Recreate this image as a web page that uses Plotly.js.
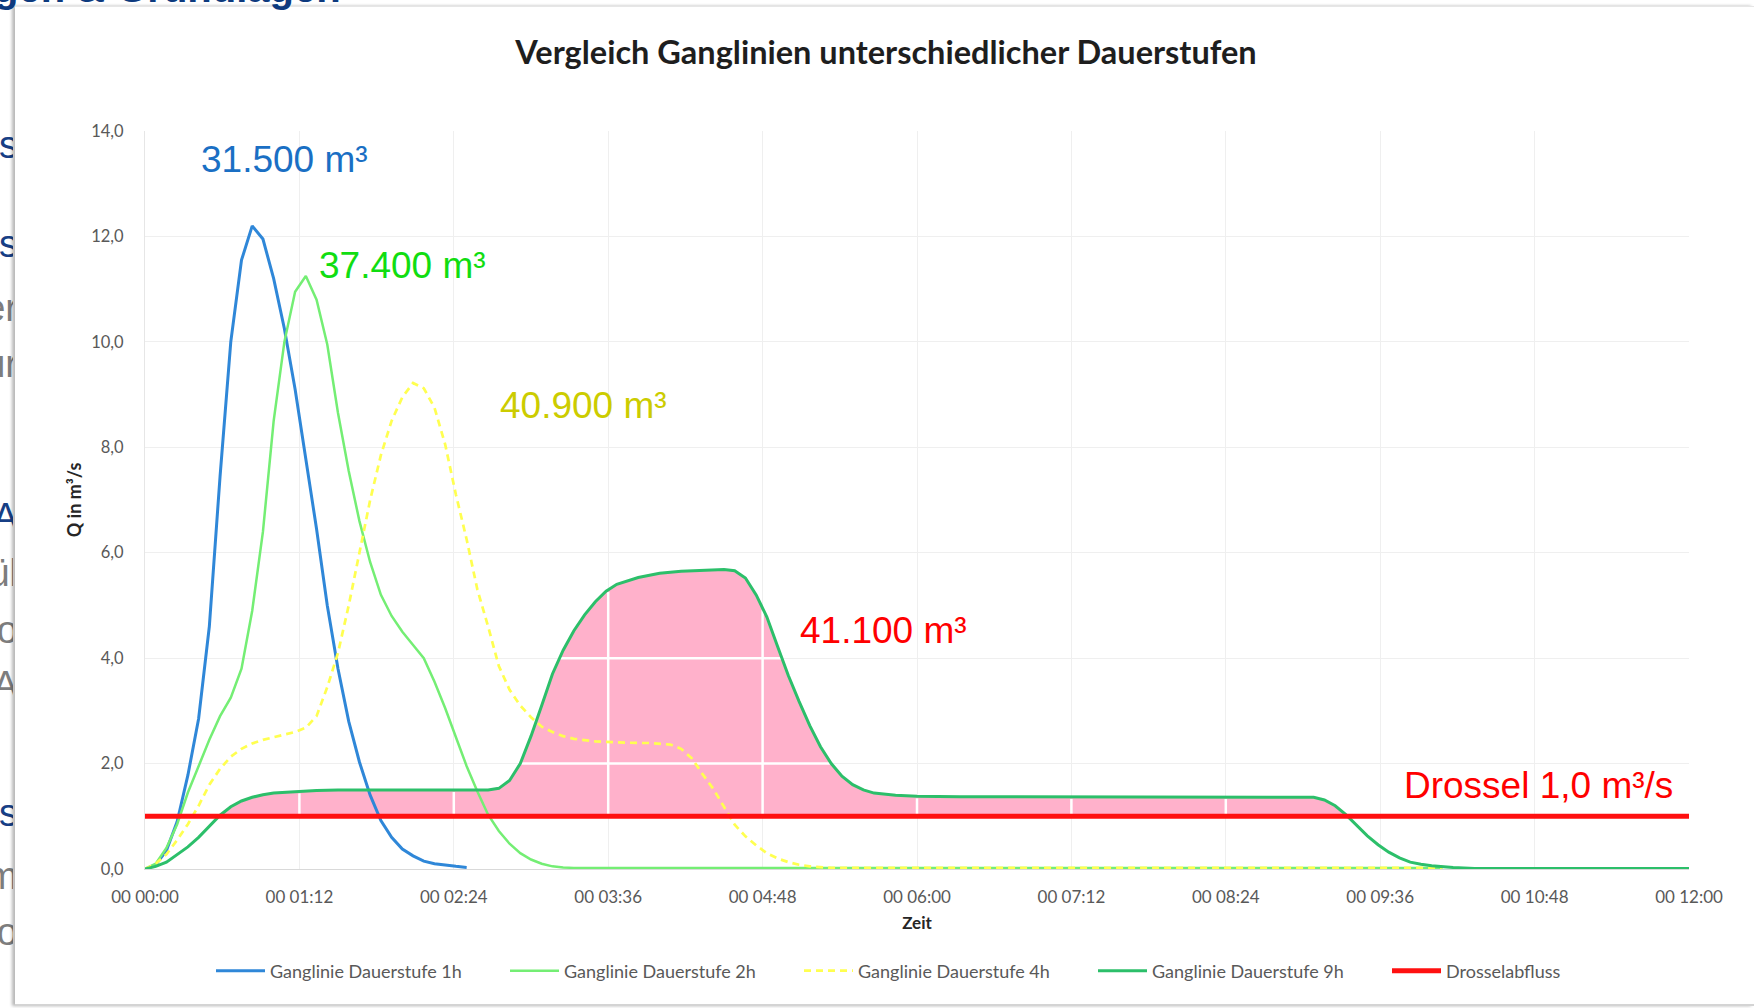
<!DOCTYPE html>
<html>
<head>
<meta charset="utf-8">
<script src="https://cdn.plot.ly/plotly-3.0.1.min.js"></script>
<style>
html,body{margin:0;padding:0;width:1754px;height:1008px;overflow:hidden;background:#fff;}
#strip{position:absolute;left:0;top:0;width:13px;height:1008px;overflow:hidden;font-family:"Liberation Sans",Arial,sans-serif;}
#strip span{position:absolute;right:-5px;white-space:nowrap;font-size:38px;line-height:40px;}
#card{position:absolute;left:15px;top:6px;width:1739px;height:997px;background:#fff;border-top:1px solid #e6e6e6;border-bottom:2px solid #d4d4d4;box-shadow:-3px 0 3px rgba(0,0,0,0.28);}
#toptext{position:absolute;left:0;top:0;width:420px;height:10px;overflow:hidden;z-index:3;}
#toptext span{position:absolute;left:-6px;top:-32px;white-space:nowrap;font-family:"Liberation Sans",Arial,sans-serif;font-weight:bold;font-size:40px;line-height:40px;color:#0d3a7e;}
#chart{position:absolute;left:0;top:0;width:1754px;height:1008px;z-index:2;}
.blue{color:#173f85;}
.gray{color:#7d7d7d;}
</style>
</head>
<body>
<div id="strip">
  <span class="blue" style="top:125px">ss</span>
  <span class="blue" style="top:224px">es</span>
  <span class="gray" style="top:288px">er</span>
  <span class="gray" style="top:344px">ur</span>
  <span class="blue" style="top:497px">A</span>
  <span class="gray" style="top:553px">ül</span>
  <span class="gray" style="top:610px">o</span>
  <span class="gray" style="top:665px">A</span>
  <span class="blue" style="top:793px">as</span>
  <span class="gray" style="top:856px">m</span>
  <span class="gray" style="top:912px">o</span>
</div>
<div id="card"></div>
<div id="toptext"><span>gen &amp; Grundlagen</span></div>
<div id="chart"></div>
<script>
// ---------- data ----------
const tickMinutes = [0, 72, 144, 216, 288, 360, 432, 504, 576, 648, 720];
const tickLabels = ["00 00:00","00 01:12","00 02:24","00 03:36","00 04:48","00 06:00","00 07:12","00 08:24","00 09:36","00 10:48","00 12:00"];

// Ganglinie Dauerstufe 1h (time in minutes, Q in m³/s)
const t1h = [0,5,10,15,20,25,30,35,40,45,50,55,60,65,70,75,80,85,90,95,100,105,110,115,120,125,130,135,140,145,150];
const q1h = [0,0.08,0.35,0.9,1.78,2.85,4.6,7.45,10.0,11.55,12.2,11.95,11.2,10.25,9.1,7.8,6.45,5.0,3.8,2.8,2.03,1.4,0.92,0.6,0.38,0.25,0.15,0.1,0.07,0.05,0.03];

// Ganglinie Dauerstufe 2h
const t2h = [0,5,10,15,20,25,30,35,40,45,50,55,60,65,70,75,80,85,90,95,100,105,110,115,120,125,130,135,140,145,150,155,160,165,170,175,180,185,190,195,200,250,300,400,500,605];
const q2h = [0,0.1,0.4,0.85,1.45,1.95,2.45,2.9,3.25,3.8,4.9,6.4,8.5,10.0,10.95,11.25,10.8,9.95,8.65,7.55,6.6,5.82,5.2,4.8,4.5,4.25,4.0,3.55,3.05,2.5,1.95,1.47,1.03,0.72,0.48,0.3,0.18,0.1,0.05,0.03,0.02,0.02,0.02,0.02,0.02,0.02];

// Ganglinie Dauerstufe 4h
const t4h = [0,5,10,15,20,25,30,35,40,45,50,55,60,65,70,75,80,85,90,95,100,105,110,115,120,125,130,135,140,145,150,155,160,165,170,175,180,185,190,195,200,205,210,215,220,225,230,235,240,245,250,255,260,265,270,275,280,285,290,295,300,305,310,315,320,400,500,605];
const q4h = [0,0.1,0.28,0.55,0.85,1.2,1.6,1.9,2.13,2.28,2.38,2.45,2.5,2.55,2.6,2.68,2.9,3.45,4.1,5.0,6.0,7.0,7.85,8.5,8.95,9.22,9.12,8.75,8.05,7.1,6.25,5.3,4.6,3.85,3.4,3.1,2.88,2.7,2.6,2.52,2.47,2.44,2.42,2.41,2.4,2.4,2.39,2.39,2.38,2.36,2.28,2.1,1.8,1.52,1.18,0.84,0.62,0.45,0.3,0.2,0.13,0.08,0.05,0.03,0.02,0.02,0.02,0.02];

// Ganglinie Dauerstufe 9h
const t9h = [0,5,10,15,20,25,30,35,40,45,50,55,60,70,80,90,100,110,120,130,140,150,160,165,170,175,180,185,190,195,200,205,210,215,220,230,240,250,260,270,275,280,285,290,295,300,305,310,315,320,325,330,335,340,350,360,380,400,420,440,460,480,500,520,540,545,550,555,560,565,570,575,580,585,590,595,600,610,620,640,660,680,700,720];
const q9h = [0,0.05,0.13,0.27,0.42,0.6,0.8,1.02,1.18,1.29,1.36,1.41,1.44,1.47,1.49,1.5,1.5,1.5,1.5,1.5,1.5,1.5,1.5,1.53,1.68,2.0,2.52,3.1,3.7,4.15,4.52,4.82,5.07,5.27,5.4,5.53,5.61,5.65,5.67,5.68,5.66,5.52,5.2,4.78,4.22,3.67,3.18,2.72,2.32,2.0,1.76,1.6,1.5,1.44,1.4,1.38,1.37,1.37,1.37,1.37,1.37,1.37,1.37,1.37,1.37,1.36,1.31,1.2,1.03,0.83,0.63,0.46,0.32,0.21,0.13,0.09,0.06,0.03,0.01,0.01,0.01,0.01,0.01,0.01];

// Drosselabfluss
const tDrossel = [0, 720];
const qDrossel = [1.0, 1.0];

// Volumes / labels
const volumeLabels = ["31.500 m³", "37.400 m³", "40.900 m³", "41.100 m³"];
const drosselLabel = "Drossel 1,0 m³/s";
const seriesNames = ["Ganglinie Dauerstufe 1h","Ganglinie Dauerstufe 2h","Ganglinie Dauerstufe 4h","Ganglinie Dauerstufe 9h","Drosselabfluss"];

// ---------- helpers ----------
function interp(ts, qs, x){
  for(let i=1;i<ts.length;i++){
    if(x<=ts[i]){ const f=(x-ts[i-1])/(ts[i]-ts[i-1]); return qs[i-1]+f*(qs[i]-qs[i-1]); }
  }
  return qs[qs.length-1];
}
function aboveLevel(ts, qs, level){
  const segs=[]; let cur=null;
  for(let i=0;i<ts.length;i++){
    if(qs[i]>level){
      if(!cur){
        cur={t:[],q:[]};
        if(i>0){ const f=(level-qs[i-1])/(qs[i]-qs[i-1]); cur.t.push(ts[i-1]+f*(ts[i]-ts[i-1])); cur.q.push(level); }
      }
      cur.t.push(ts[i]); cur.q.push(qs[i]);
    } else if(cur){
      const f=(level-qs[i-1])/(qs[i]-qs[i-1]); cur.t.push(ts[i-1]+f*(ts[i]-ts[i-1])); cur.q.push(level);
      segs.push(cur); cur=null;
    }
  }
  if(cur) segs.push(cur);
  return segs;
}

const level = qDrossel[0];
const traces = [];

// pink retention volume above the throttle
aboveLevel(t9h, q9h, level).forEach(seg=>{
  traces.push({x:seg.t, y:seg.q, type:'scatter', mode:'lines', fill:'toself', fillcolor:'#FFB1CB',
    line:{width:0, color:'rgba(0,0,0,0)'}, showlegend:false, hoverinfo:'skip'});
});

// white gridlines showing through the pink area
const gx=[], gy=[];
tickMinutes.forEach(m=>{
  const v = interp(t9h, q9h, m);
  if(m>0 && m<720 && v>level+0.05){ gx.push(m,m,null); gy.push(level, v-0.04, null); }
});
[2,4,6,8,10,12].forEach(g=>{
  aboveLevel(t9h, q9h, g).forEach(seg=>{ gx.push(seg.t[0], seg.t[seg.t.length-1], null); gy.push(g,g,null); });
});
traces.push({x:gx, y:gy, type:'scatter', mode:'lines', line:{color:'#ffffff', width:2.5}, showlegend:false, hoverinfo:'skip'});

traces.push({x:t1h, y:q1h, name:seriesNames[0], type:'scatter', mode:'lines', line:{color:'#2F87D8', width:3}});
traces.push({x:t2h, y:q2h, name:seriesNames[1], type:'scatter', mode:'lines', line:{color:'#74EE74', width:2.5}});
traces.push({x:t4h, y:q4h, name:seriesNames[2], type:'scatter', mode:'lines', line:{color:'#FFFF50', width:2.7, dash:'7px,5px'}});
traces.push({x:t9h, y:q9h, name:seriesNames[3], type:'scatter', mode:'lines', line:{color:'#2CBF6A', width:3}});
traces.push({x:tDrossel, y:qDrossel, name:seriesNames[4], type:'scatter', mode:'lines', line:{color:'#FF1010', width:5}});

const annFont = (c)=>({family:'"Liberation Sans", Arial, sans-serif', size:37, color:c});
const layout = {
  width:1754, height:1008,
  paper_bgcolor:'rgba(0,0,0,0)', plot_bgcolor:'rgba(0,0,0,0)',
  margin:{l:145, r:65, t:131, b:139, pad:0},
  separators:',.',
  hovermode:false,
  title:{text:'<b>Vergleich Ganglinien unterschiedlicher Dauerstufen</b>',
    font:{family:'Lato, sans-serif', size:32.5, color:'#1e1e1e'},
    xref:'container', yref:'container', x:886/1754, y:1-53/1008, xanchor:'center', yanchor:'middle'},
  xaxis:{range:[0,720], tickmode:'array', tickvals:tickMinutes, ticktext:tickLabels,
    showgrid:true, gridcolor:'#efefef', gridwidth:1, zeroline:false,
    showline:true, linecolor:'#d9d9d9', linewidth:1, ticks:'', ticklabelstandoff:13,
    tickfont:{family:'Lato, sans-serif', size:17, color:'#595959'},
    title:{text:'<b>Zeit</b>', font:{family:'Lato, sans-serif', size:17, color:'#262626'}, standoff:10}},
  yaxis:{range:[0,14], tickmode:'linear', tick0:0, dtick:2, tickformat:'.1f',
    showgrid:true, gridcolor:'#efefef', gridwidth:1, zeroline:false,
    showline:true, linecolor:'#e6e6e6', linewidth:1, ticks:'', ticklabelstandoff:17,
    tickfont:{family:'Lato, sans-serif', size:16.5, color:'#595959'},
    title:{text:'<b>Q in m³/s</b>', font:{family:'Lato, sans-serif', size:18, color:'#262626'}, standoff:4}},
  legend:{orientation:'h', xref:'paper', x:(211-145)/1544, xanchor:'left', y:-(971-869)/738, yanchor:'middle',
    font:{family:'Lato, sans-serif', size:18, color:'#595959'}, itemwidth:49, entrywidth:230, bgcolor:'rgba(0,0,0,0)'},
  annotations:[
    {text:volumeLabels[0], x:25.2, y:13.45, xref:'x', yref:'y', xanchor:'left', yanchor:'middle', showarrow:false, font:annFont('#1A6FC4')},
    {text:volumeLabels[1], x:80.2, y:11.44, xref:'x', yref:'y', xanchor:'left', yanchor:'middle', showarrow:false, font:annFont('#11DD11')},
    {text:volumeLabels[2], x:164.6, y:8.8, xref:'x', yref:'y', xanchor:'left', yanchor:'middle', showarrow:false, font:annFont('#CCCC00')},
    {text:volumeLabels[3], x:304.5, y:4.53, xref:'x', yref:'y', xanchor:'left', yanchor:'middle', showarrow:false, font:annFont('#FF0000')},
    {text:drosselLabel, x:713.5, y:1.59, xref:'x', yref:'y', xanchor:'right', yanchor:'middle', showarrow:false, font:annFont('#FF0000')}
  ]
};
Plotly.newPlot('chart', traces, layout, {displayModeBar:false, staticPlot:true});
</script>
</body>
</html>
